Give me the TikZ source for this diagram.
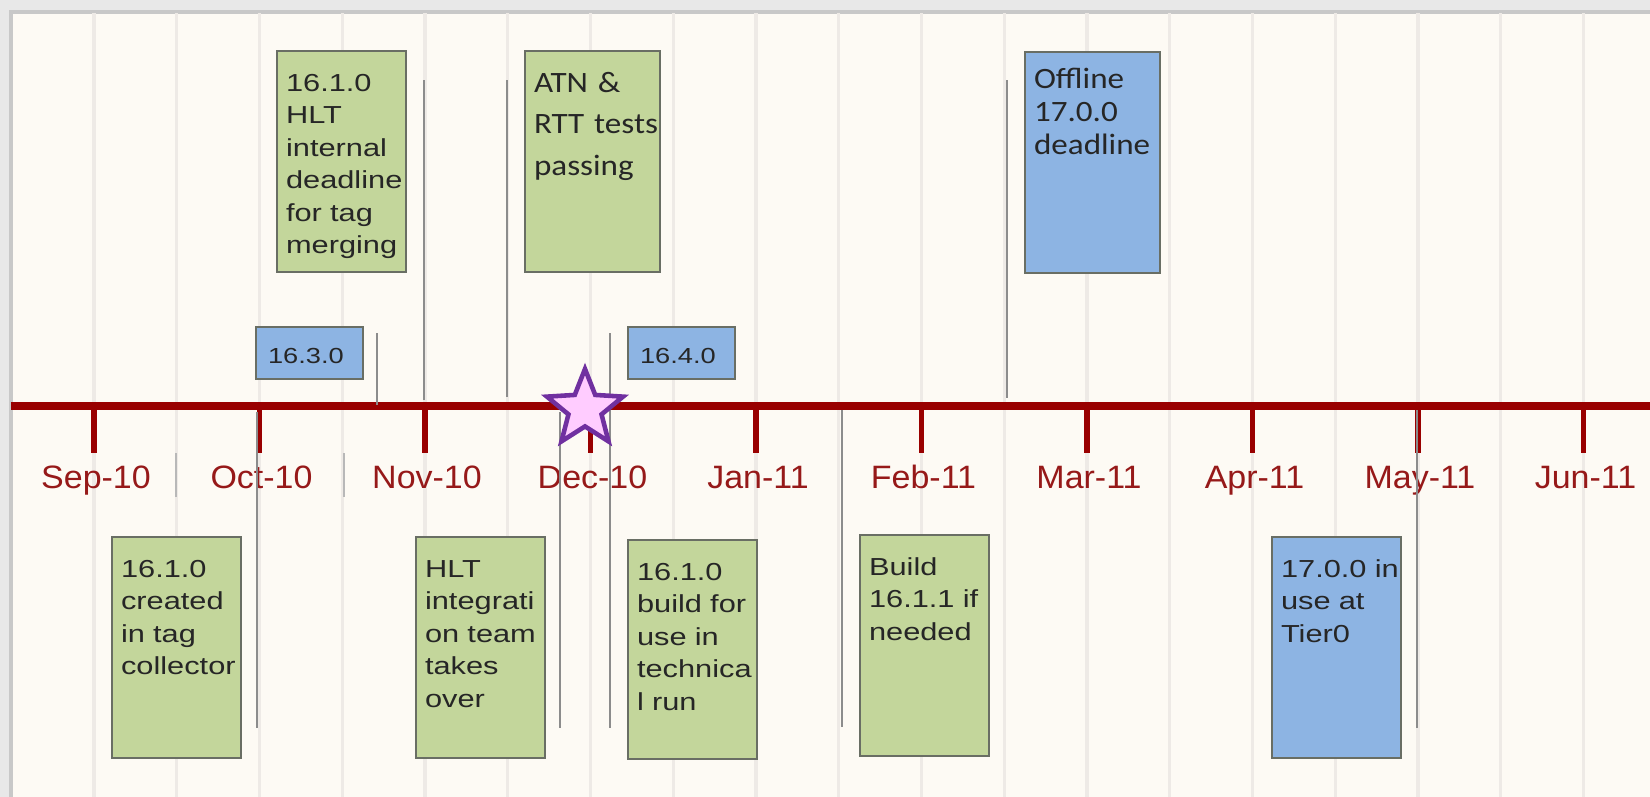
\documentclass[tikz,border=0pt]{standalone}
\usepackage{fontspec}
\setmainfont{Liberation Sans}
\newfontfamily\evfont[FakeStretch=1.25]{Liberation Sans}
\newfontfamily\evcfont[FakeStretch=1.12]{Carlito}
\newfontfamily\lblfont[FakeStretch=1.05]{Liberation Sans}
\usetikzlibrary{shapes.geometric}
\hyphenpenalty=10000
\definecolor{outerbg}{RGB}{232,232,232}
\definecolor{panelbd}{RGB}{200,200,200}
\definecolor{panelbg}{RGB}{253,250,244}
\definecolor{gridln}{RGB}{238,234,230}
\definecolor{axisred}{RGB}{153,0,0}
\definecolor{lblred}{RGB}{150,25,25}
\definecolor{evgreen}{RGB}{195,214,155}
\definecolor{evblue}{RGB}{141,180,227}
\definecolor{boxedge}{RGB}{105,110,100}
\definecolor{markgray}{RGB}{140,140,140}
\definecolor{starln}{RGB}{112,48,160}
\definecolor{starfill}{RGB}{255,204,255}
\tikzset{gridline/.style={draw=gridln, line width=0.9pt},
  axis/.style={draw=axisred, line width=2.2pt},
  tickmk/.style={draw=axisred, line width=1.5pt},
  sepln/.style={draw=black!28, line width=0.6pt},
  evmark/.style={draw=markgray, line width=0.7pt},
  mlbl/.style={text=lblred, font=\lblfont\fontsize{9.2}{11}\selectfont, inner sep=0pt, anchor=base},
  evt/.style={draw=boxedge, line width=0.6pt, fill=#1, text=black!85, anchor=north west,
    inner xsep=0.09cm, inner ysep=0pt, text width=1.11cm, text height=0.40cm, text depth=1.81cm,
    align=left, font=\evfont\fontsize{7}{9.25}\selectfont},
  evtc/.style={evt=#1, text width=1.17cm, font=\evcfont\fontsize{8.4}{9.5}\selectfont},
  rel/.style={evt=evblue, text width=0.83cm, inner xsep=0.12cm, text height=0.36cm, text depth=0.16cm,
    font=\evfont\fontsize{6.2}{8}\selectfont},
  milestone/.style={star, star points=5, star point ratio=2.3, draw=starln, fill=starfill,
    line width=1.3pt, minimum size=0.80cm, inner sep=0pt}}

\begin{document}
\begin{tikzpicture}[x=0.01cm, y=-0.01cm]
  \useasboundingbox (0,0) rectangle (1650,797);
  \fill[outerbg] (0,0) rectangle (1650,797);
  \fill[panelbg] (11,12) rectangle (1650,797);
  \draw[panelbd, line width=1pt] (11,797) -- (11,12) -- (1650,12);
  % half-month grid
  \foreach \k in {0,...,18}
    \draw[gridline] (94+82.75*\k,13) -- (94+82.75*\k,797);
  \draw[sepln] (176,453) -- (176,497);
  \draw[sepln] (344,453) -- (344,497);
  % month axis
  \draw[axis] (11,406) -- (1650,406);
  \foreach \m [count=\i from 0] in {Sep-10,Oct-10,Nov-10,Dec-10,Jan-11,Feb-11,Mar-11,Apr-11,May-11,Jun-11}{
    \draw[tickmk] (94+165.5*\i,406) -- ++(0,47);
    \node[mlbl] (lbl\i) at (96+165.5*\i,488) {\m};
  }
  % event markers above
  \draw[evmark] (377,333) -- (377,405);
  \draw[evmark] (424,80) -- (424,400);
  \draw[evmark] (507,80) -- (507,397);
  \draw[evmark] (1007,80) -- (1007,398);
  % event markers below
  \draw[evmark] (257,412) -- (257,728);
  \draw[evmark] (560,412) -- (560,728);
  \draw[evmark] (610,333) -- (610,728);
  \draw[evmark] (842,410) -- (842,727);
  \draw[evmark] (1417,410) -- (1417,728);
  \node[milestone] (today) at (585,409) {};
  % boxes above the axis
  \node[evt=evgreen] (hltdl) at (276,50) {16.1.0\\HLT\\internal\\deadline\\for~tag\\merging};
  \node[evtc=evgreen, font=\evcfont\fontsize{8.4}{11.8}\selectfont, text height=0.41cm, text depth=1.80cm]
    (atn) at (524,50) {ATN~\&\\RTT~tests\\passing};
  \node[evtc=evblue, text height=0.36cm, text depth=1.85cm] (offl) at (1024,51) {Offline\\17.0.0\\deadline};
  \node[rel] (r163) at (255,326) {16.3.0};
  \node[rel] (r164) at (627,326) {16.4.0};
  % boxes below the axis
  \node[evt=evgreen] (created) at (111,536) {16.1.0\\created\\in~tag\\collector};
  \node[evt=evgreen] (hltint) at (415,536) {HLT\\integrati\\on~team\\takes\\over};
  \node[evt=evgreen, text depth=1.79cm] (techrun) at (627,539) {16.1.0\\build~for\\use~in\\technica\\l~run};
  \node[evt=evgreen] (build) at (859,534) {Build\\16.1.1~if\\needed};
  \node[evt=evblue] (tier0) at (1271,536) {17.0.0~in\\use~at\\Tier0};
\end{tikzpicture}
\end{document}
